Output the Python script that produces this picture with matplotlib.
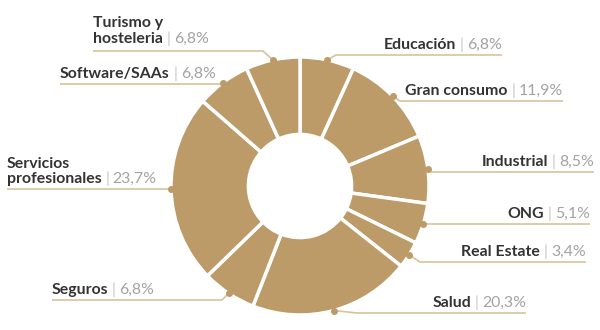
import matplotlib.pyplot as plt
import numpy as np

# share of clients by sector (%), clockwise from 12 o'clock
sectors = [
    "Educación", "Gran consumo", "Industrial", "ONG", "Real Estate",
    "Salud", "Seguros", "Servicios\nprofesionales", "Software/SAAs",
    "Turismo y\nhosteleria",
]
shares = [6.8, 11.9, 8.5, 5.1, 3.4, 20.3, 6.8, 23.7, 6.8, 6.8]

# label layout in pixels (y from top): side, leader y, near x, far x
label_layout = [
    ("right", 55, 336, 502),
    ("right", 101, 400, 563),
    ("right", 172, 431, 594),
    ("right", 224, 428, 590),
    ("right", 262, 420, 586),
    ("right", 313, 357, 526),
    ("left", 300, 222, 52),
    ("left", 189, 171, 7),
    ("left", 84, 222, 60),
    ("left", 51, 263, 93),
]

W, H = 600, 330
TAN = "#BC9B69"
LEADER = "#D8C29C"
DARK = "#333333"
GREY = "#A3A3A3"
SEP = "#C8C8C8"
FONT = "Lato"
FS = 11.4


def py(y):
    return H - y


def fmt_pct(v):
    return f"{v:.1f}".replace(".", ",") + "%"


fig = plt.figure(figsize=(6, 3.3), dpi=100)
ax = fig.add_axes([0, 0, 1, 1])

center = (300, py(186))
radius = 129
wedges, _ = ax.pie(
    shares,
    center=center,
    radius=radius,
    startangle=90,
    counterclock=False,
    colors=[TAN] * len(shares),
    wedgeprops=dict(width=radius * 0.6, edgecolor="white", linewidth=2.5),
)
ax.set_xlim(0, W)
ax.set_ylim(0, H)
ax.set_aspect("equal")
ax.axis("off")

for wedge, name, value, (side, ly, xn, xf) in zip(wedges, sectors, shares, label_layout):
    mid = np.deg2rad((wedge.theta1 + wedge.theta2) / 2.0)
    ax_ = center[0] + radius * np.cos(mid)
    ay_ = center[1] + radius * np.sin(mid)

    ax.plot([ax_, xn, xf], [ay_, py(ly), py(ly)], color=LEADER, lw=1.2,
            solid_capstyle="butt", zorder=1)
    ax.plot([ax_], [ay_], "o", color=TAN, ms=4, zorder=3)

    lines = name.split("\n")
    gap = 8 if len(lines) > 1 and side == "left" and ly < 100 else 6
    base = py(ly - gap)
    pct = fmt_pct(value)

    if side == "right":
        t_pct = ax.text(xf, base, pct, ha="right", va="baseline", color=GREY,
                        fontsize=FS, fontfamily=FONT)
        t_sep = ax.annotate("|", xy=(0, 0), xycoords=t_pct, xytext=(-2.5, 0),
                            textcoords="offset points", ha="right", va="bottom",
                            color=SEP, fontsize=FS, fontfamily=FONT)
        ax.annotate(lines[-1], xy=(0, 0), xycoords=t_sep, xytext=(-2.5, 0),
                    textcoords="offset points", ha="right", va="bottom",
                    color=DARK, fontsize=FS, fontfamily=FONT, fontweight="bold")
    else:
        t_name = ax.text(xf, base, lines[-1], ha="left", va="baseline", color=DARK,
                         fontsize=FS, fontfamily=FONT, fontweight="bold")
        t_sep = ax.annotate("|", xy=(1, 0), xycoords=t_name, xytext=(2.5, 0),
                            textcoords="offset points", ha="left", va="bottom",
                            color=SEP, fontsize=FS, fontfamily=FONT)
        ax.annotate(pct, xy=(1, 0), xycoords=t_sep, xytext=(2.5, 0),
                    textcoords="offset points", ha="left", va="bottom",
                    color=GREY, fontsize=FS, fontfamily=FONT)
        for k, extra in enumerate(reversed(lines[:-1]), start=1):
            ax.text(xf, base + 15.5 * k, extra, ha="left", va="baseline", color=DARK,
                    fontsize=FS, fontfamily=FONT, fontweight="bold")

fig.savefig("out.png", dpi=100)
